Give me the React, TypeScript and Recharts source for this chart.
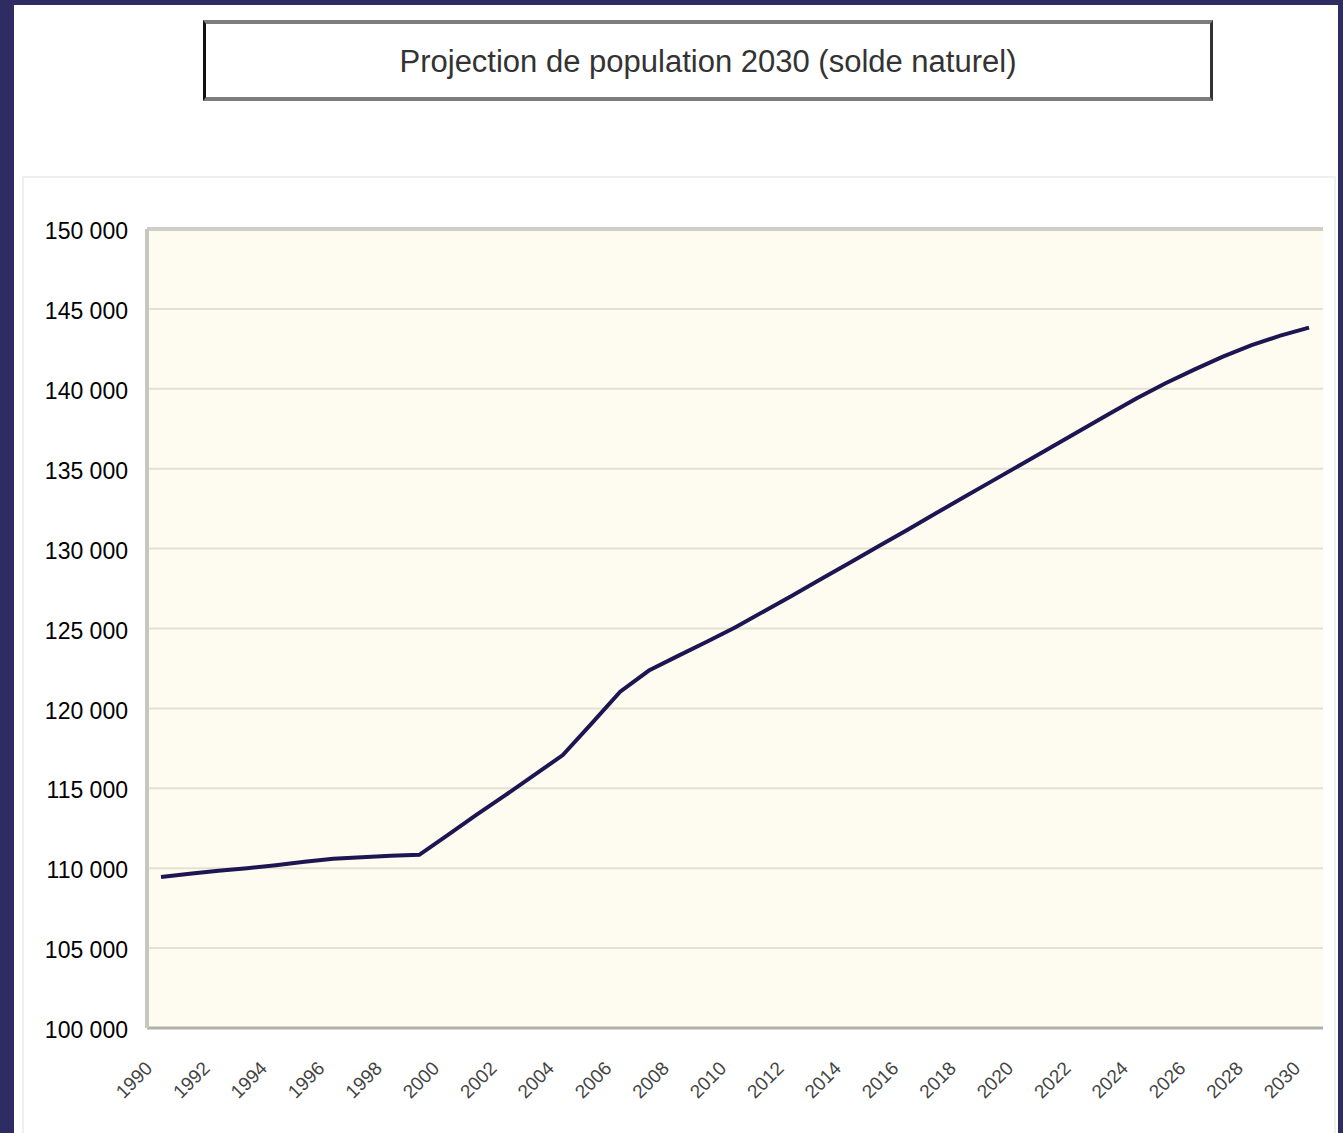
import { CartesianGrid, Line, LineChart, ReferenceLine, XAxis, YAxis } from 'recharts';

const years = [
  '1990', '1991', '1992', '1993', '1994', '1995', '1996', '1997', '1998', '1999',
  '2000', '2001', '2002', '2003', '2004', '2005', '2006', '2007', '2008', '2009',
  '2010', '2011', '2012', '2013', '2014', '2015', '2016', '2017', '2018', '2019',
  '2020', '2021', '2022', '2023', '2024', '2025', '2026', '2027', '2028', '2029',
  '2030',
];

const population = [
  109450, 109650, 109840, 110000, 110180, 110400, 110590, 110680, 110780, 110840,
  112090, 113350, 114570, 115820, 117080, 119050, 121050, 122370, 123270, 124160,
  125060, 126070, 127070, 128100, 129120, 130140, 131170, 132210, 133240, 134270,
  135300, 136320, 137360, 138390, 139410, 140350, 141200, 142010, 142730, 143330,
  143830,
];

const yTicks = [100000, 105000, 110000, 115000, 120000, 125000, 130000, 135000, 140000, 145000, 150000];

const title = 'Projection de population 2030 (solde naturel)';

const data = years.map((year, i) => ({ year, population: population[i] }));

function formatThousands(n: number) {
  return String(n).replace(/\B(?=(\d{3})+(?!\d))/g, ' ');
}

const font = 'Arial, "Liberation Sans", sans-serif';

export default function App() {
  return (
    <div
      style={{
        position: 'absolute',
        left: 0,
        top: 0,
        width: 1343,
        height: 1133,
        background: '#2e2c63',
        overflow: 'hidden',
        fontFamily: font,
      }}
    >
      <div style={{ position: 'absolute', left: 14, top: 5, width: 1324, height: 1128, background: '#fff' }} />
      {/* faint outline of the chart area */}
      <div
        style={{
          position: 'absolute',
          left: 22,
          top: 176,
          width: 1310,
          height: 970,
          border: '2px solid #f0f0ee',
        }}
      />
      <div
        style={{
          position: 'absolute',
          left: 203,
          top: 20,
          width: 1004,
          height: 70,
          background: '#fff',
          borderTop: '4px solid #7d7d7d',
          borderBottom: '4px solid #7d7d7d',
          borderLeft: '3px solid #111',
          borderRight: '3px solid #333',
          display: 'flex',
          alignItems: 'center',
          justifyContent: 'center',
          fontSize: 31,
          color: '#333',
          paddingTop: 3,
          boxSizing: 'content-box',
        }}
      >
        {title}
      </div>
      <div style={{ position: 'absolute', left: 0, top: 0 }}>
        <LineChart width={1343} height={1133} data={data} margin={{ top: 229, right: 20, bottom: 5, left: 47 }}>
          <CartesianGrid vertical={false} fill="#fefcf0" stroke="#e4e1d4" strokeWidth={2} />
          <XAxis
            dataKey="year"
            interval={1}
            padding={{ left: 14, right: 14 }}
            height={100}
            tickSize={0}
            tickMargin={32}
            angle={-45}
            textAnchor="end"
            dx={-17}
            axisLine={{ stroke: '#b2b0a8', strokeWidth: 3 }}
            tick={{ fontSize: 19, fill: '#444', fontFamily: font }}
          />
          <YAxis
            domain={[100000, 150000]}
            ticks={yTicks}
            width={100}
            tickSize={0}
            tickMargin={19}
            tickFormatter={formatThousands}
            axisLine={{ stroke: '#c8c7bf', strokeWidth: 4 }}
            tick={{ fontSize: 23, fill: '#000', fontFamily: font, dy: 2 }}
          />
          <YAxis
            yAxisId="right"
            orientation="right"
            domain={[100000, 150000]}
            width={0}
            tick={false}
            tickLine={false}
            axisLine={{ stroke: '#cfcec7', strokeWidth: 4 }}
          />
          <ReferenceLine y={150000} stroke="#cfcec7" strokeWidth={4} />
          <Line
            type="linear"
            dataKey="population"
            stroke="#1d1652"
            strokeWidth={4}
            dot={false}
            activeDot={false}
            isAnimationActive={false}
          />
        </LineChart>
      </div>
    </div>
  );
}
